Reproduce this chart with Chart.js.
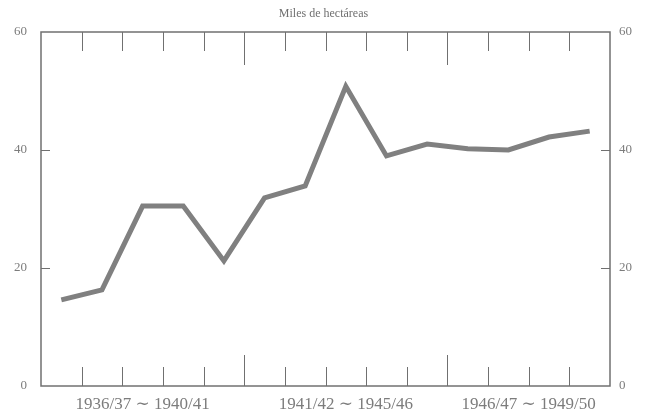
<!DOCTYPE html>
<html>
<head>
<meta charset="utf-8">
<script src="https://cdn.jsdelivr.net/npm/chart.js@4"></script>
<style>
  html, body { margin: 0; padding: 0; background: #fff; }
</style>
</head>
<body>
<canvas id="chart" width="647" height="413"></canvas>
<script>
const years = [
    '1936/37', '1937/38', '1938/39', '1939/40', '1940/41',
    '1941/42', '1942/43', '1943/44', '1944/45', '1945/46',
    '1946/47', '1947/48', '1948/49', '1949/50',
];
const hectareas = [14.6, 16.3, 30.5, 30.5, 21.2, 31.9, 33.9, 50.8, 39.0, 41.0, 40.2, 40.0, 42.2, 43.2];
const periods = ['1936/37 ∼ 1940/41', '1941/42 ∼ 1945/46', '1946/47 ∼ 1949/50'];
const periodFirst = [0, 5, 10];
const periodLast = [4, 9, 13];
const yTicks = [0, 20, 40, 60];
const innerTicks = [20, 40];

const ink = '#707070';
const textInk = '#7c7c7c';
const serif = "'Liberation Serif', 'DejaVu Serif', serif";

// frame of the plot and the small tick marks drawn inside it
const framePlugin = {
    id: 'frame',
    afterDraw(chart) {
        const ctx = chart.ctx;
        const a = chart.chartArea;
        const x = chart.scales.x;
        const y = chart.scales.y;
        ctx.save();
        ctx.strokeStyle = ink;
        ctx.lineWidth = 1.5;
        ctx.strokeRect(Math.round(a.left), Math.round(a.top),
            Math.round(a.right - a.left), Math.round(a.bottom - a.top));
        ctx.lineWidth = 1;
        ctx.beginPath();
        for (let k = 1; k < years.length; k++) {
            const px = Math.round((x.getPixelForValue(k - 1) + x.getPixelForValue(k)) / 2) + 0.5;
            const long = periodFirst.includes(k);
            ctx.moveTo(px, a.top);
            ctx.lineTo(px, a.top + (long ? 33 : 19));
            ctx.moveTo(px, a.bottom);
            ctx.lineTo(px, a.bottom - (long ? 31 : 19));
        }
        innerTicks.forEach(v => {
            const py = Math.round(y.getPixelForValue(v)) + 0.5;
            ctx.moveTo(a.left, py);
            ctx.lineTo(a.left + 9, py);
            ctx.moveTo(a.right, py);
            ctx.lineTo(a.right - 9, py);
        });
        ctx.stroke();
        ctx.restore();
    }
};

const yAxis = (position, pad, width) => ({
    type: 'linear',
    position: position,
    min: 0,
    max: 60,
    afterBuildTicks: axis => { axis.ticks = yTicks.map(v => ({ value: v })); },
    afterFit: axis => { axis.width = width; },
    grid: { display: false, drawTicks: false },
    border: { display: false },
    ticks: {
        color: textInk,
        padding: pad,
        font: { family: serif, size: 13 },
    },
});

const config = {
    type: 'line',
    data: {
        labels: years,
        datasets: [{
            label: 'Miles de hectáreas',
            data: hectareas,
            borderColor: 'rgb(128, 128, 128)',
            borderWidth: 5,
            borderJoinStyle: 'miter',
            pointRadius: 0,
            tension: 0,
            fill: false,
        }]
    },
    options: {
        responsive: false,
        animation: false,
        layout: { padding: 0 },
        plugins: {
            legend: { display: false },
            tooltip: { enabled: false },
            title: {
                display: true,
                text: 'Miles de hectáreas',
                color: ink,
                font: { family: serif, size: 12, weight: 'normal' },
                padding: { top: 7, bottom: 10.6 },
            },
        },
        scales: {
            x: {
                type: 'category',
                offset: true,
                display: false,
            },
            xp: {
                type: 'linear',
                position: 'bottom',
                min: -0.5,
                max: years.length - 0.5,
                afterBuildTicks: axis => {
                    axis.ticks = periods.map((p, i) => ({ value: (periodFirst[i] + periodLast[i]) / 2 }));
                },
                afterFit: axis => { axis.height = 27; },
                grid: { display: false, drawTicks: false },
                border: { display: false },
                ticks: {
                    autoSkip: false,
                    maxRotation: 0,
                    color: textInk,
                    padding: 8,
                    font: { family: serif, size: 17 },
                    callback: (v, i) => periods[i],
                },
            },
            y: yAxis('left', 14, 41),
            y2: yAxis('right', 9, 37),
        }
    },
    plugins: [framePlugin],
};

const myChart = new Chart(document.getElementById('chart'), config);
</script>
</body>
</html>
